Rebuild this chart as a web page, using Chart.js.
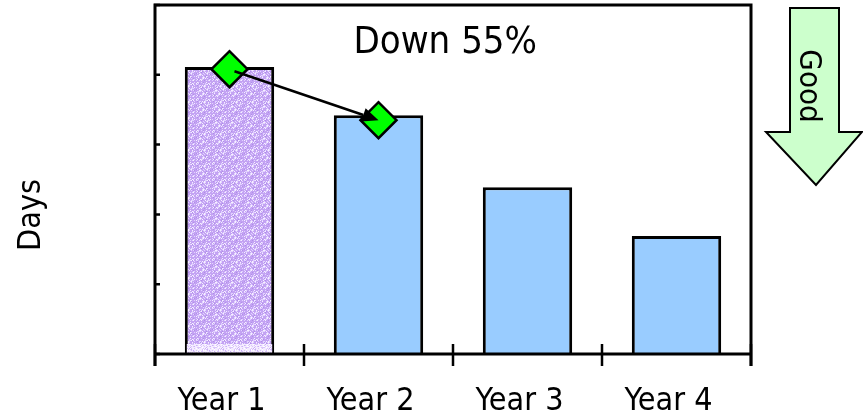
<!DOCTYPE html>
<html>
<head>
<meta charset="utf-8">
<script src="https://cdn.jsdelivr.net/npm/chart.js@4/dist/chart.umd.min.js"></script>
<style>
  html, body { margin: 0; padding: 0; background: #ffffff; }
  #wrap { width: 863px; height: 415px; }
</style>
</head>
<body>
<div id="wrap"><canvas id="c" width="863" height="415"></canvas></div>
<script>
// Chart data
const categories = ['Year 1', 'Year 2', 'Year 3', 'Year 4'];
const daysValues = [4.11, 3.42, 2.39, 1.69];
const markerValues = [4.08, 3.35, null, null];
const yTickValues = [0, 1, 2, 3, 4, 5];
const headline = 'Down 55%';
const axisTitle = 'Days';
const badgeText = 'Good';

const FONT = '"DejaVu Sans Condensed", "DejaVu Sans", sans-serif';

// Speckled lavender fill for the baseline-year bar
function makeSpeckle(light) {
  const t = document.createElement('canvas');
  t.width = 16; t.height = 16;
  const g = t.getContext('2d');
  g.fillStyle = light ? '#f4ecff' : '#c3a3f3';
  g.fillRect(0, 0, 16, 16);
  for (let yy = 0; yy < 16; yy++) {
    for (let xx = 0; xx < 16; xx++) {
      const h = (xx * 73 + yy * 151 + xx * yy * 29) % 17;
      if (h < 4) { g.fillStyle = light ? '#d9c4fb' : '#e2d2ff'; g.fillRect(xx, yy, 1, 1); }
      else if (h === 5 || h === 11) { g.fillStyle = light ? '#ffffff' : '#f6f0ff'; g.fillRect(xx, yy, 1, 1); }
      else if (h === 9) { g.fillStyle = light ? '#c9adf7' : '#b08ee8'; g.fillRect(xx, yy, 1, 1); }
    }
  }
  return g.createPattern(t, 'repeat');
}
const speckle = makeSpeckle(false);
const speckleLight = makeSpeckle(true);

const barColors = categories.map((c, i) => i === 0 ? speckle : '#99ccff');

const decorations = {
  id: 'decorations',
  afterDatasetsDraw(chart) {
    const ctx = chart.ctx;
    // lighter band at the foot of the first bar
    const bar = chart.getDatasetMeta(1).data[0];
    if (bar) {
      const p = bar.getProps(['x', 'width', 'base'], true);
      ctx.save();
      ctx.fillStyle = speckleLight;
      ctx.fillRect(p.x - p.width / 2 + 2, p.base - 10, p.width - 4, 10);
      ctx.restore();
    }
    // arrow linking the two markers
    const pts = chart.getDatasetMeta(0).data;
    const a = pts[0], b = pts[1];
    if (a && b) {
      const ang = Math.atan2(b.y - a.y, b.x - a.x);
      const hl = 16, hw = 7;
      const bx = b.x - Math.cos(ang) * hl, by = b.y - Math.sin(ang) * hl;
      ctx.save();
      ctx.strokeStyle = '#000'; ctx.fillStyle = '#000'; ctx.lineWidth = 2.5;
      ctx.beginPath();
      ctx.moveTo(a.x + 5, a.y + 2);
      ctx.lineTo(bx, by);
      ctx.stroke();
      ctx.beginPath();
      ctx.moveTo(b.x, b.y);
      ctx.lineTo(bx + Math.sin(ang) * hw, by - Math.cos(ang) * hw);
      ctx.lineTo(bx - Math.sin(ang) * hw, by + Math.cos(ang) * hw);
      ctx.closePath();
      ctx.fill();
      ctx.restore();
    }
  },
  afterDraw(chart) {
    const ctx = chart.ctx;
    const area = chart.chartArea;
    const xs = chart.scales.x, ys = chart.scales.y;
    ctx.save();
    ctx.strokeStyle = '#000';
    ctx.lineWidth = 3;
    // frame: left axis, top, right edge (the side lines run past the base)
    ctx.beginPath();
    ctx.moveTo(area.left, area.bottom + 12);
    ctx.lineTo(area.left, area.top);
    ctx.lineTo(area.right, area.top);
    ctx.lineTo(area.right, area.bottom + 12);
    ctx.moveTo(area.left, area.bottom);
    ctx.lineTo(area.right, area.bottom);
    ctx.stroke();
    // category boundary ticks poking up into the plot
    ctx.lineWidth = 2.5;
    ctx.beginPath();
    const n = categories.length;
    for (let i = 0; i <= n; i++) {
      const x = xs.left + (xs.right - xs.left) * i / n;
      ctx.moveTo(x, area.bottom - 10);
      ctx.lineTo(x, area.bottom + 12);
    }
    // inward value ticks on the left axis
    yTickValues.forEach(v => {
      const y = ys.getPixelForValue(v);
      ctx.moveTo(area.left - 1, y);
      ctx.lineTo(area.left + 5, y);
    });
    ctx.stroke();

    // headline
    ctx.fillStyle = '#000';
    ctx.font = '38px ' + FONT;
    ctx.textAlign = 'center';
    ctx.textBaseline = 'alphabetic';
    ctx.fillText(headline, area.left + (area.right - area.left) * 0.487, 53);

    // axis title
    ctx.save();
    ctx.font = '32px ' + FONT;
    ctx.translate(area.left - 115, 215);
    ctx.rotate(-Math.PI / 2);
    ctx.fillText(axisTitle, 0, 0);
    ctx.restore();

    // "Good" direction arrow outside the plot
    const cx = area.right + 63;
    ctx.beginPath();
    ctx.moveTo(cx - 24, area.top + 3);
    ctx.lineTo(cx + 25, area.top + 3);
    ctx.lineTo(cx + 25, 132);
    ctx.lineTo(cx + 48, 132);
    ctx.lineTo(cx + 2, 185);
    ctx.lineTo(cx - 48, 132);
    ctx.lineTo(cx - 24, 132);
    ctx.closePath();
    ctx.fillStyle = '#ccffcc';
    ctx.fill();
    ctx.lineWidth = 2;
    ctx.stroke();
    ctx.save();
    ctx.fillStyle = '#000';
    ctx.font = '31px ' + FONT;
    ctx.translate(cx - 14, 86);
    ctx.rotate(Math.PI / 2);
    ctx.textAlign = 'center';
    ctx.fillText(badgeText, 0, 0);
    ctx.restore();
    ctx.restore();
  }
};

new Chart(document.getElementById('c'), {
  data: {
    labels: categories,
    datasets: [
      {
        type: 'line',
        data: markerValues,
        showLine: false,
        order: 0,
        pointStyle: 'rectRot',
        pointRadius: 18,
        pointBackgroundColor: '#00ff00',
        pointBorderColor: '#000000',
        pointBorderWidth: 2.5
      },
      {
        type: 'bar',
        data: daysValues,
        order: 1,
        backgroundColor: barColors,
        borderColor: '#000000',
        borderWidth: 3,
        borderSkipped: 'start',
        categoryPercentage: 1,
        barPercentage: 0.6
      }
    ]
  },
  options: {
    responsive: false,
    animation: false,
    devicePixelRatio: 1,
    events: [],
    layout: { autoPadding: false, padding: { left: 155, right: 112, top: 5, bottom: 0 } },
    plugins: { legend: { display: false }, tooltip: { enabled: false } },
    scales: {
      x: {
        type: 'category',
        offset: true,
        grid: { display: false, drawOnChartArea: false },
        border: { display: false },
        ticks: {
          color: '#000',
          font: { family: FONT, size: 32 },
          padding: 20,
          labelOffset: -8,
          maxRotation: 0
        },
        afterFit(s) { s.height = 61; }
      },
      y: {
        display: false,
        min: 0,
        max: 5,
        ticks: { stepSize: 1 }
      }
    }
  },
  plugins: [decorations]
});
</script>
</body>
</html>
